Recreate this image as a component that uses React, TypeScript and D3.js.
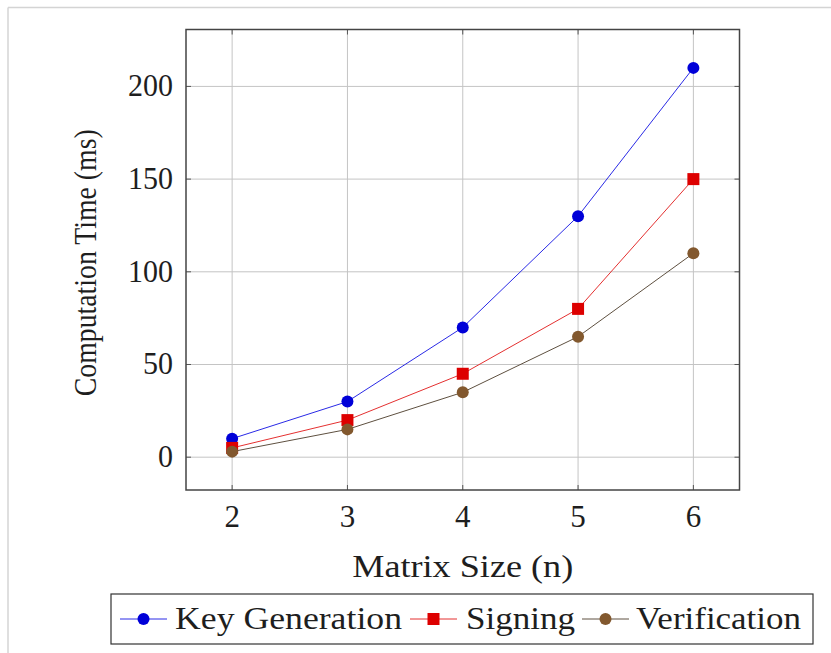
import React from "react";
import * as d3 from "d3";

const matrixSizes = [2, 3, 4, 5, 6];
const keyGeneration = [10, 30, 70, 130, 210];
const signing = [5, 20, 45, 80, 150];
const verification = [3, 15, 35, 65, 110];
const yTicks = [0, 50, 100, 150, 200];
const seriesNames = ["Key Generation", "Signing", "Verification"];

const W = 831;
const H = 653;
const left = 186, right = 739.5, top = 29.5, bottom = 490;
const FAMILY = "Liberation Serif";

type TProps = {
  x?: number;
  y?: number;
  size: number;
  anchor?: string;
  len?: number;
  transform?: string;
  children: React.ReactNode;
};

function Label({ x, y, size, anchor, len, transform, children }: TProps) {
  return (
    <text
      x={x}
      y={y}
      transform={transform}
      fontFamily={FAMILY}
      fontSize={size}
      textAnchor={anchor || "start"}
      fill="#1e1e1e"
      textLength={len}
      lengthAdjust={len ? "spacingAndGlyphs" : undefined}
      style={{ fontFamily: `"${FAMILY}"` }}
    >
      {String(children)}
    </text>
  );
}

export default function App() {
  const x = d3.scaleLinear().domain([1.6, 6.4]).range([left, right]);
  const y = d3.scaleLinear().domain([-17.7, 230.7]).range([bottom, top]);
  const line = d3
    .line<[number, number]>()
    .x((d) => x(d[0]))
    .y((d) => y(d[1]));

  const series = [
    { name: seriesNames[0], values: keyGeneration, line: "#2a2ae6", fill: "#0000d8", mark: "circle" },
    { name: seriesNames[1], values: signing, line: "#e43030", fill: "#dd0000", mark: "square" },
    { name: seriesNames[2], values: verification, line: "#5e5040", fill: "#82582e", mark: "circle" },
  ];

  const marker = (mark: string, cx: number, cy: number, fill: string, key: string) =>
    mark === "circle" ? (
      <circle key={key} cx={cx} cy={cy} r={6} fill={fill} />
    ) : (
      <rect key={key} x={cx - 6} y={cy - 6} width={12} height={12} fill={fill} />
    );

  const legendItems = [
    { x0: 120, text: 175, textLen: 227 },
    { x0: 410, text: 466, textLen: 109 },
    { x0: 582, text: 636, textLen: 165 },
  ];

  return (
    <svg width={W} height={H} style={{ position: "absolute", left: 0, top: 0 }}>
      <rect x={0} y={0} width={W} height={H} fill="#fff" />
      {/* outer faint frame */}
      <line x1={8} y1={7.5} x2={W} y2={7.5} stroke="#d4d4d4" strokeWidth={1.5} />
      <line x1={8} y1={7.5} x2={8} y2={H} stroke="#d4d4d4" strokeWidth={1.5} />

      {/* grid */}
      {matrixSizes.map((v) => (
        <line key={"gx" + v} x1={x(v)} x2={x(v)} y1={top} y2={bottom} stroke="#c4c4c4" strokeWidth={1} />
      ))}
      {yTicks.map((v) => (
        <line key={"gy" + v} x1={left} x2={right} y1={y(v)} y2={y(v)} stroke="#c4c4c4" strokeWidth={1} />
      ))}
      {/* inner ticks */}
      {matrixSizes.map((v) => (
        <g key={"tx" + v} stroke="#555" strokeWidth={1}>
          <line x1={x(v)} x2={x(v)} y1={bottom} y2={bottom - 5} />
          <line x1={x(v)} x2={x(v)} y1={top} y2={top + 5} />
        </g>
      ))}
      {yTicks.map((v) => (
        <g key={"ty" + v} stroke="#555" strokeWidth={1}>
          <line x1={left} x2={left + 5} y1={y(v)} y2={y(v)} />
          <line x1={right} x2={right - 5} y1={y(v)} y2={y(v)} />
        </g>
      ))}

      {/* series */}
      {series.map((s) => (
        <g key={s.name}>
          <path
            d={line(matrixSizes.map((m, i) => [m, s.values[i]] as [number, number])) || ""}
            fill="none"
            stroke={s.line}
            strokeWidth={1}
          />
          {matrixSizes.map((m, i) => marker(s.mark, x(m), y(s.values[i]), s.fill, s.name + i))}
        </g>
      ))}

      {/* frame */}
      <rect x={left} y={top} width={right - left} height={bottom - top} fill="none" stroke="#444" strokeWidth={1.5} />

      {/* tick labels */}
      {matrixSizes.map((v) => (
        <Label key={"lx" + v} x={x(v)} y={527} size={31} anchor="middle">
          {v}
        </Label>
      ))}
      {yTicks.map((v) => (
        <Label key={"ly" + v} x={173} y={y(v) + 10} size={31} anchor="end" len={v >= 100 ? 45 : v >= 10 ? 30 : 15}>
          {v}
        </Label>
      ))}

      {/* axis labels */}
      <Label x={(left + right) / 2} y={577} size={32} anchor="middle" len={221}>
        Matrix Size (n)
      </Label>
      <Label transform={`translate(96, ${(top + bottom) / 2 + 3}) rotate(-90)`} x={0} y={0} size={32} anchor="middle" len={267}>
        Computation Time (ms)
      </Label>

      {/* legend */}
      <rect x={111} y={594} width={702} height={50} fill="#fff" stroke="#333" strokeWidth={1.2} />
      {series.map((s, i) => {
        const it = legendItems[i];
        return (
          <g key={"lg" + s.name}>
            <line x1={it.x0} x2={it.x0 + 47} y1={619} y2={619} stroke={s.line} strokeWidth={1} />
            {marker(s.mark, it.x0 + 23.5, 619, s.fill, "lm" + i)}
            <Label x={it.text} y={629} size={32} len={it.textLen}>
              {s.name}
            </Label>
          </g>
        );
      })}
    </svg>
  );
}
